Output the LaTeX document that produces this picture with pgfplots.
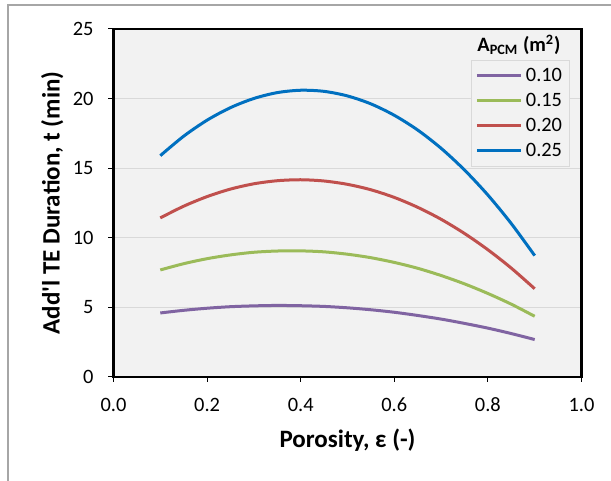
\documentclass[border=0pt]{standalone}
\usepackage{pgfplots}
\pgfplotsset{compat=1.18}
\usepackage{fontspec}
\setmainfont{Carlito}
\definecolor{bgc}{HTML}{F2F2F2}
\definecolor{gridc}{HTML}{D9D9D9}
\definecolor{cpurple}{HTML}{8064A2}
\definecolor{cgreen}{HTML}{9BBB59}
\definecolor{cred}{HTML}{C0504D}
\definecolor{cblue}{HTML}{0070C0}
\begin{document}
\begin{tikzpicture}
\begin{axis}[
  at={(56.75pt,52pt)}, anchor=south west,
  width=234pt, height=174pt, scale only axis,
  xmin=0, xmax=1, ymin=0, ymax=25,
  xtick={0,0.2,0.4,0.6,0.8,1.0},
  ytick={0,5,10,15,20,25},
  xticklabel style={/pgf/number format/fixed, /pgf/number format/fixed zerofill, /pgf/number format/precision=1, yshift=-4.5pt},
  /pgf/number format/assume math mode=true,
  ticklabel style={font=\fontsize{10.2}{12}\selectfont},
  yticklabel style={xshift=-4pt},
  tick align=outside, major tick length=2.5pt,
  tick style={black, line width=0.5pt},
  xtick pos=bottom, ytick pos=left,
  axis line style={black, line width=1.25pt},
  axis background/.style={fill=bgc},
  ymajorgrids, major grid style={draw=gridc, line width=0.6pt},
  xlabel={Porosity, ε (-)},
  ylabel={Add\textquotesingle l TE Duration, t (min)},
  label style={font=\fontsize{12.5}{15}\selectfont\bfseries},
  xlabel style={at={(axis description cs:0.5,-0.181)}, anchor=center},
  ylabel style={at={(axis description cs:-0.131,0.5)}, anchor=center},
  legend style={at={(axis description cs:0.9754,0.911)}, anchor=north east,
    draw=gridc, fill=bgc, font=\fontsize{10.2}{12}\selectfont,
    row sep=0pt, inner xsep=2pt, inner ysep=1.5pt,
    nodes={inner sep=1.75pt, text height=7.5pt, text depth=1.5pt}},
  legend cell align=left,
  legend image code/.code={\draw[#1, line width=1.5pt] (0pt,0pt) -- (22pt,0pt);},
]
\addplot[cpurple, line width=1.5pt, smooth] coordinates {
(0.1,4.60) (0.15,4.79) (0.2,4.94) (0.25,5.05) (0.3,5.11) (0.35,5.14) (0.4,5.12) (0.45,5.07) (0.5,4.97) (0.55,4.83) (0.6,4.65) (0.65,4.42) (0.7,4.16) (0.75,3.85) (0.8,3.51) (0.85,3.12) (0.9,2.69)};
\addlegendentry{0.10}
\addplot[cgreen, line width=1.5pt, smooth] coordinates {
(0.1,7.69) (0.15,8.14) (0.2,8.50) (0.25,8.77) (0.3,8.96) (0.35,9.05) (0.4,9.06) (0.45,8.99) (0.5,8.82) (0.55,8.57) (0.6,8.23) (0.65,7.81) (0.7,7.29) (0.75,6.69) (0.8,6.00) (0.85,5.23) (0.9,4.36)};
\addlegendentry{0.15}
\addplot[cred, line width=1.5pt, smooth] coordinates {
(0.1,11.43) (0.15,12.27) (0.2,12.96) (0.25,13.50) (0.3,13.88) (0.35,14.10) (0.4,14.17) (0.45,14.08) (0.5,13.84) (0.55,13.45) (0.6,12.90) (0.65,12.19) (0.7,11.33) (0.75,10.31) (0.8,9.14) (0.85,7.82) (0.9,6.34)};
\addlegendentry{0.20}
\addplot[cblue, line width=1.5pt, smooth] coordinates {
(0.1,15.90) (0.15,17.30) (0.2,18.45) (0.25,19.35) (0.3,20.01) (0.35,20.43) (0.4,20.60) (0.45,20.52) (0.5,20.19) (0.55,19.62) (0.6,18.80) (0.65,17.74) (0.7,16.43) (0.75,14.87) (0.8,13.07) (0.85,11.02) (0.9,8.72)};
\addlegendentry{0.25}
\end{axis}
\node[font=\fontsize{10.2}{12}\selectfont\bfseries] at (259.5pt,218pt) {A\textsubscript{PCM} (m\textsuperscript{2})};
\draw[gray!70, line width=1pt] (3.75pt,0pt) -- (3.75pt,238pt) -- (305.5pt,238pt);
\pgfresetboundingbox
\useasboundingbox (0pt,0pt) rectangle (305.5pt,240.5pt);
\end{tikzpicture}
\end{document}
